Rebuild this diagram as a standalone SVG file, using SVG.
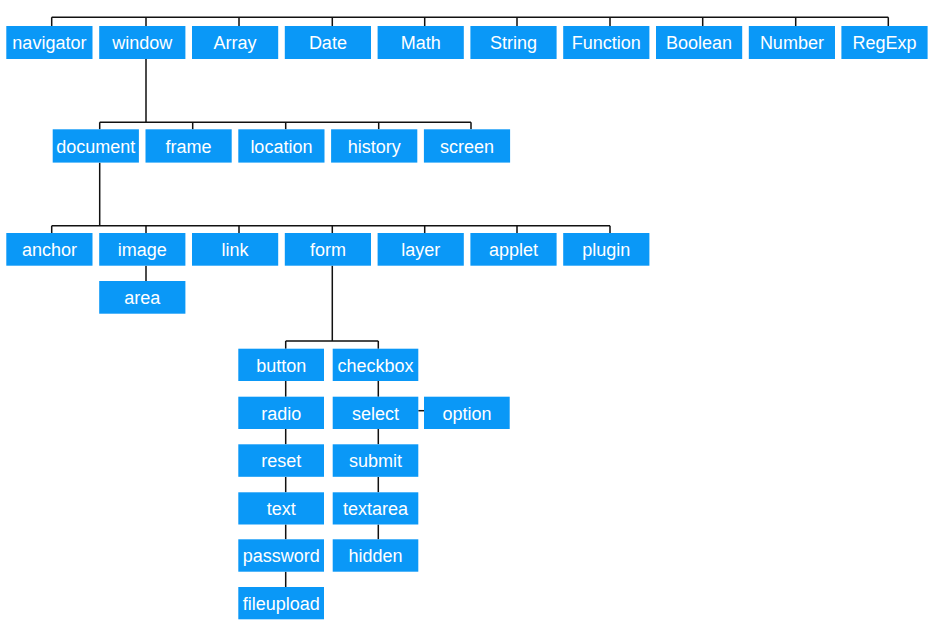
<svg xmlns="http://www.w3.org/2000/svg" width="933" height="628" viewBox="0 0 933 628">
  <style>
    .box { fill: #0A98F7; }
    .lbl { fill: #ffffff; font-family: "Liberation Sans", Arial, sans-serif; font-size: 18px; text-anchor: middle; }
    .ln { stroke: #111111; stroke-width: 1.5; fill: none; }
  </style>
  <rect width="933" height="628" fill="#ffffff"/>

  <!-- connectors -->
  <g id="connectors" class="ln">
    <!-- top level bus -->
    <path d="M51.7,17.3 H888.3"/>
    <path d="M51.7,17.3 V26 M146,17.3 V26 M239,17.3 V26 M332.3,17.3 V26 M424.7,17.3 V26 M517,17.3 V26 M610,17.3 V26 M702.7,17.3 V26 M795.7,17.3 V26 M888.3,17.3 V26"/>
    <!-- window children -->
    <path d="M146,59 V122.3 M99.7,122.3 H471"/>
    <path d="M99.7,122.3 V129.3 M192.7,122.3 V129.3 M285.7,122.3 V129.3 M378.7,122.3 V129.3 M471,122.3 V129.3"/>
    <!-- document children -->
    <path d="M99.7,162.7 V225.7 M51.7,225.7 H610"/>
    <path d="M51.7,225.7 V233 M146,225.7 V233 M239,225.7 V233 M332.3,225.7 V233 M424.7,225.7 V233 M517,225.7 V233 M610,225.7 V233"/>
    <!-- image to area -->
    <path d="M146,265.7 V281"/>
    <!-- form children -->
    <path d="M332.3,265.7 V341 M285.7,341 H378.3 M285.7,341 V348.7 M378.3,341 V348.7"/>
    <!-- left column chain -->
    <path d="M285.7,381 V396.7 M285.7,429 V444.3 M285.7,477 V492.3 M285.7,524.5 V539.3 M285.7,571.7 V587"/>
    <!-- right column chain -->
    <path d="M378.3,381 V396.7 M378.3,429 V444.3 M378.3,477 V492.3 M378.3,524.5 V539.3"/>
    <!-- select to option -->
    <path d="M418.3,410.7 H424"/>
  </g>

  <!-- top level objects -->
  <g id="navigator"><rect class="box" x="6.3" y="26" width="86.2" height="33"/><text class="lbl" x="49.4" y="49">navigator</text></g>
  <g id="window"><rect class="box" x="99.2" y="26" width="86.2" height="33"/><text class="lbl" x="142.3" y="49">window</text></g>
  <g id="Array"><rect class="box" x="192" y="26" width="86.2" height="33"/><text class="lbl" x="235.1" y="49">Array</text></g>
  <g id="Date"><rect class="box" x="284.8" y="26" width="86.2" height="33"/><text class="lbl" x="327.9" y="49">Date</text></g>
  <g id="Math"><rect class="box" x="377.6" y="26" width="86.2" height="33"/><text class="lbl" x="420.7" y="49">Math</text></g>
  <g id="String"><rect class="box" x="470.4" y="26" width="86.2" height="33"/><text class="lbl" x="513.5" y="49">String</text></g>
  <g id="Function"><rect class="box" x="563.2" y="26" width="86.2" height="33"/><text class="lbl" x="606.3" y="49">Function</text></g>
  <g id="Boolean"><rect class="box" x="656" y="26" width="86.2" height="33"/><text class="lbl" x="699.1" y="49">Boolean</text></g>
  <g id="Number"><rect class="box" x="748.8" y="26" width="86.2" height="33"/><text class="lbl" x="791.9" y="49">Number</text></g>
  <g id="RegExp"><rect class="box" x="841.4" y="26" width="86.2" height="33"/><text class="lbl" x="884.5" y="49">RegExp</text></g>

  <!-- window children -->
  <g id="document"><rect class="box" x="52.7" y="129.3" width="86.2" height="33.3"/><text class="lbl" x="95.8" y="152.5">document</text></g>
  <g id="frame"><rect class="box" x="145.5" y="129.3" width="86.2" height="33.3"/><text class="lbl" x="188.6" y="152.5">frame</text></g>
  <g id="location"><rect class="box" x="238.3" y="129.3" width="86.2" height="33.3"/><text class="lbl" x="281.4" y="152.5">location</text></g>
  <g id="history"><rect class="box" x="331.1" y="129.3" width="86.2" height="33.3"/><text class="lbl" x="374.2" y="152.5">history</text></g>
  <g id="screen"><rect class="box" x="423.9" y="129.3" width="86.2" height="33.3"/><text class="lbl" x="467" y="152.5">screen</text></g>

  <!-- document children -->
  <g id="anchor"><rect class="box" x="6.3" y="233" width="86.2" height="32.7"/><text class="lbl" x="49.4" y="256">anchor</text></g>
  <g id="image"><rect class="box" x="99.2" y="233" width="86.2" height="32.7"/><text class="lbl" x="142.3" y="256">image</text></g>
  <g id="link"><rect class="box" x="192" y="233" width="86.2" height="32.7"/><text class="lbl" x="235.1" y="256">link</text></g>
  <g id="form"><rect class="box" x="284.8" y="233" width="86.2" height="32.7"/><text class="lbl" x="327.9" y="256">form</text></g>
  <g id="layer"><rect class="box" x="377.6" y="233" width="86.2" height="32.7"/><text class="lbl" x="420.7" y="256">layer</text></g>
  <g id="applet"><rect class="box" x="470.4" y="233" width="86.2" height="32.7"/><text class="lbl" x="513.5" y="256">applet</text></g>
  <g id="plugin"><rect class="box" x="563.2" y="233" width="86.2" height="32.7"/><text class="lbl" x="606.3" y="256">plugin</text></g>

  <!-- image child -->
  <g id="area"><rect class="box" x="99.2" y="281" width="86.2" height="32.7"/><text class="lbl" x="142.3" y="304">area</text></g>

  <!-- form elements, left column -->
  <g id="button"><rect class="box" x="238.3" y="348.7" width="85.7" height="32.3"/><text class="lbl" x="281.2" y="371.5">button</text></g>
  <g id="radio"><rect class="box" x="238.3" y="396.7" width="85.7" height="32.3"/><text class="lbl" x="281.2" y="419.5">radio</text></g>
  <g id="reset"><rect class="box" x="238.3" y="444.3" width="85.7" height="32.5"/><text class="lbl" x="281.2" y="467">reset</text></g>
  <g id="text"><rect class="box" x="238.3" y="492.3" width="85.7" height="32.2"/><text class="lbl" x="281.2" y="515">text</text></g>
  <g id="password"><rect class="box" x="238.3" y="539.3" width="85.7" height="32.4"/><text class="lbl" x="281.2" y="562">password</text></g>
  <g id="fileupload"><rect class="box" x="238.3" y="587" width="85.7" height="32.3"/><text class="lbl" x="281.2" y="610">fileupload</text></g>

  <!-- form elements, right column -->
  <g id="checkbox"><rect class="box" x="332.7" y="348.7" width="85.6" height="32.3"/><text class="lbl" x="375.5" y="371.5">checkbox</text></g>
  <g id="select"><rect class="box" x="332.7" y="396.7" width="85.6" height="32.3"/><text class="lbl" x="375.5" y="419.5">select</text></g>
  <g id="submit"><rect class="box" x="332.7" y="444.3" width="85.6" height="32.5"/><text class="lbl" x="375.5" y="467">submit</text></g>
  <g id="textarea"><rect class="box" x="332.7" y="492.3" width="85.6" height="32.2"/><text class="lbl" x="375.5" y="515">textarea</text></g>
  <g id="hidden"><rect class="box" x="332.7" y="539.3" width="85.6" height="32.4"/><text class="lbl" x="375.5" y="562">hidden</text></g>

  <!-- select child -->
  <g id="option"><rect class="box" x="424" y="396.7" width="85.7" height="32.3"/><text class="lbl" x="466.9" y="419.5">option</text></g>
</svg>
